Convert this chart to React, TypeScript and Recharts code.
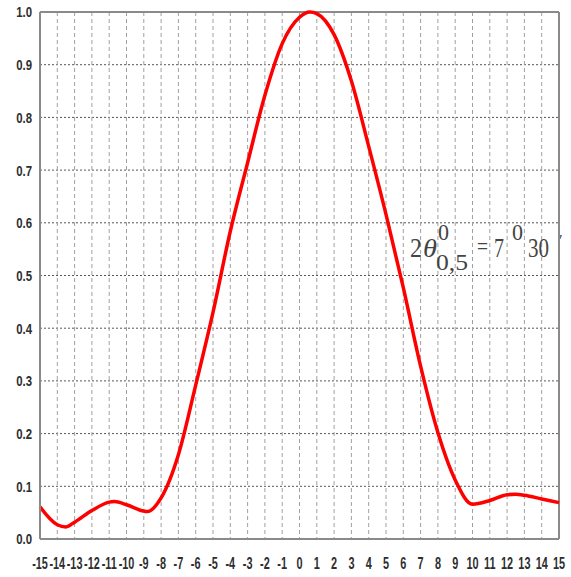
import { LineChart, Line, XAxis, YAxis, CartesianGrid, ReferenceLine, Customized } from 'recharts';

// angle, degrees
const ANGLES = [
  -15, -14, -13.5, -13, -12, -11, -10.7, -10, -9, -8.8, -8, -7, -6, -5, -4, -3, -2, -1, 0, 0.6,
  1, 2, 3, 4, 5, 6, 7, 8, 9, 10, 11, 12, 12.5, 13, 14, 15,
];
// normalised pattern level
const LEVELS = [
  0.061, 0.027, 0.023, 0.032, 0.054, 0.07, 0.071, 0.065, 0.053, 0.052, 0.078, 0.16, 0.292, 0.43,
  0.584, 0.714, 0.842, 0.94, 0.99, 1.0, 0.997, 0.957, 0.869, 0.745, 0.616, 0.477, 0.328, 0.202,
  0.112, 0.066, 0.073, 0.084, 0.085, 0.083, 0.076, 0.069,
];
const X_TICKS = [
  -15, -14, -13, -12, -11, -10, -9, -8, -7, -6, -5, -4, -3, -2, -1, 0, 1, 2, 3, 4, 5, 6, 7, 8, 9,
  10, 11, 12, 13, 14, 15,
];
const Y_TICKS = [0, 0.1, 0.2, 0.3, 0.4, 0.5, 0.6, 0.7, 0.8, 0.9, 1.0];

const data = ANGLES.map((a, i) => ({ a, v: LEVELS[i] }));

const FONT = '"Liberation Sans", Arial, sans-serif';

// labels in the original are narrow: squeeze them horizontally
function XTick(props: any) {
  const { x, y, payload } = props;
  return (
    <g transform={`translate(${x},${y}) scale(0.68,1)`}>
      <text
        x={0}
        y={0}
        dy="0.71em"
        textAnchor="middle"
        fontFamily={FONT}
        fontSize={16}
        fontWeight={700}
        fill="#2e2e2e"
      >
        {String(payload.value)}
      </text>
    </g>
  );
}

function YTick(props: any) {
  const { x, y, payload } = props;
  return (
    <g transform={`translate(${x},${y}) scale(0.76,1)`}>
      <text
        x={0}
        y={0}
        dy="0.36em"
        textAnchor="end"
        fontFamily={FONT}
        fontSize={15}
        fontWeight={700}
        fill="#2e2e2e"
      >
        {Number(payload.value).toFixed(1)}
      </text>
    </g>
  );
}

// the formula written on the right of the plot
function Formula() {
  const serif = '"Liberation Serif", "Times New Roman", serif';
  const adj = 'spacingAndGlyphs';
  return (
    <g fontFamily={serif} fill="#444">
      <text x={410} y={257} fontSize={28} textLength={12} lengthAdjust={adj}>2</text>
      <text x={423} y={257} fontSize={26} fontStyle="italic" textLength={14} lengthAdjust={adj}>θ</text>
      <text x={438} y={240} fontSize={24} textLength={11} lengthAdjust={adj}>0</text>
      <text x={436} y={270} fontSize={24} textLength={32} lengthAdjust={adj}>0,5</text>
      <text x={477} y={255} fontSize={26} textLength={11} lengthAdjust={adj}>=</text>
      <text x={494} y={257} fontSize={28} textLength={10} lengthAdjust={adj}>7</text>
      <text x={512} y={240} fontSize={24} textLength={11} lengthAdjust={adj}>0</text>
      <text x={528} y={257} fontSize={28} textLength={21} lengthAdjust={adj}>30</text>
      <text x={559} y={246} fontSize={16}>′</text>
    </g>
  );
}

export default function App() {
  return (
    <div style={{ position: 'absolute', left: 0, top: 0, background: '#fff' }}>
      <LineChart width={571} height={577} data={data} margin={{ top: 12, right: 12, bottom: 8, left: 0 }}>
        <CartesianGrid vertical={false} stroke="#555" strokeDasharray="2 2" />
        <CartesianGrid horizontal={false} stroke="#a0a0a0" strokeDasharray="4 3" />
        <XAxis
          dataKey="a"
          type="number"
          domain={[-15, 15]}
          ticks={X_TICKS}
          interval={0}
          height={30}
          tickSize={0}
          tickMargin={19}
          tick={<XTick />}
          axisLine={{ stroke: '#8a8a8a', strokeWidth: 2 }}
        />
        <YAxis
          type="number"
          domain={[0, 1]}
          ticks={Y_TICKS}
          interval={0}
          width={40}
          tickSize={0}
          tickMargin={8}
          tick={<YTick />}
          axisLine={{ stroke: '#8a8a8a', strokeWidth: 2 }}
        />
        <ReferenceLine y={1} stroke="#8a8a8a" strokeWidth={2} />
        <ReferenceLine x={15} stroke="#8a8a8a" strokeWidth={2} />
        <Line
          type="monotone"
          dataKey="v"
          stroke="#ff0000"
          strokeWidth={3.5}
          dot={false}
          isAnimationActive={false}
        />
        <Customized component={Formula} />
      </LineChart>
    </div>
  );
}
